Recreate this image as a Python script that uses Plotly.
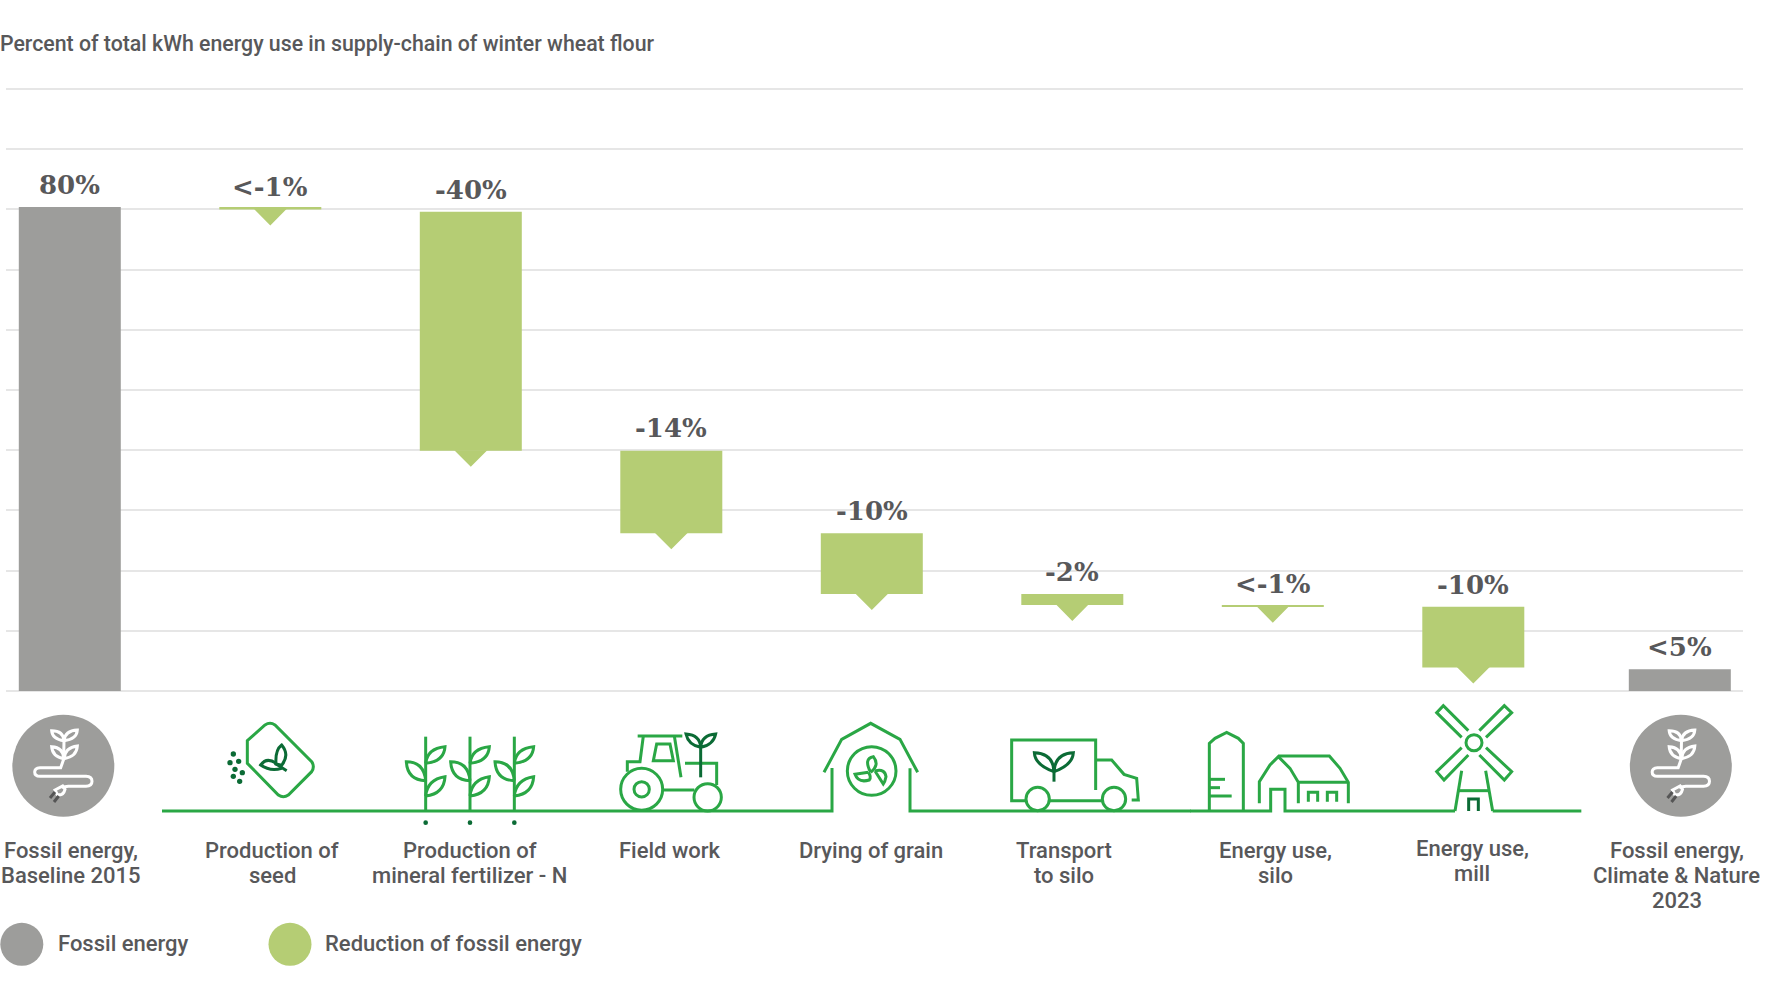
import re
import plotly.graph_objects as go

# ---------- data ----------
FOSSIL_LABELS = ["80%", "<5%"]
FOSSIL_TOPS = [80.4, 3.6]
REDUCTION_LABELS = ["<-1%", "-40%", "-14%", "-10%", "-2%", "<-1%", "-10%"]
REDUCTION_TOPS = [80.4, 79.6, 39.9, 26.2, 16.1, 14.3, 14.0]
REDUCTION_BOTTOMS = [80.0, 39.9, 26.2, 16.1, 14.3, 14.0, 3.9]
CATEGORIES = [
    ["Fossil energy,", "Baseline 2015"],
    ["Production of", "seed"],
    ["Production of", "mineral fertilizer - N"],
    ["Field work"],
    ["Drying of grain"],
    ["Transport", "to silo"],
    ["Energy use,", "silo"],
    ["Energy use,", "mill"],
    ["Fossil energy,", "Climate & Nature", "2023"],
]
TITLE = "Percent of total kWh energy use in supply-chain of winter wheat flour"
LEGEND = ["Fossil energy", "Reduction of fossil energy"]

# ---------- layout constants ----------
W, H = 1780, 1000
GRAY, LIME, GREEN, DARK, INK = "#9d9d9b", "#b5cd74", "#2aa745", "#0b6b35", "#58585a"
FONT = "Roboto"
FOSSIL_POS = [0, 8.03]
REDUCTION_POS = [1, 2, 3, 4, 5, 6, 7]
CAT_POS = [0, 1, 2, 3, 4, 5, 6, 7, 8.03]
CAT_XSHIFT = [1, 2, -1, -1, -1, -8, 3, -1, -3]
CAT_YSHIFT = [1, 1, 1, 1, 1, 1, 1, 3, 1]
LABEL_YSHIFT = [22, 22, 20, 22, 23, 22, 22, 21, 22]
X0, DX = 69.8, 200.5
PL, PR, PT, PB = 6, 1743, 86, 691
Y_PER_PX = 100 / 602
Y_TOP = (PB - PT) * Y_PER_PX
BAR_W = 102 / DX
TRI_HW, TRI_H = 16.5 / DX, 16 * Y_PER_PX
STROKE = 3


def pct(d, ox, oy):
    """Turn an absolute SVG path in 3x zoom coordinates into paper coordinates."""
    out = []
    for cmd, body in re.findall(r"([MLQCZ])([^MLQCZ]*)", d):
        nums = [float(n) for n in re.findall(r"-?\d+\.?\d*", body)]
        pts = [
            f"{(ox + nums[i] / 3) / W:.5f},{1 - (oy + nums[i + 1] / 3) / H:.5f}"
            for i in range(0, len(nums), 2)
        ]
        out.append(cmd + " ".join(pts))
    return " ".join(out)


shapes = []


def path(d, ox, oy, color=GREEN, width=STROKE):
    shapes.append(dict(type="path", xref="paper", yref="paper", path=pct(d, ox, oy),
                       line=dict(color=color, width=width), fillcolor="rgba(0,0,0,0)"))


def circ(cx, cy, r, ox=0, oy=0, color=GREEN, width=STROKE, fill=None):
    X, Y = (ox + cx / 3) / W, 1 - (oy + cy / 3) / H
    rx, ry = r / 3 / W, r / 3 / H
    shapes.append(dict(type="circle", xref="paper", yref="paper",
                       x0=X - rx, x1=X + rx, y0=Y - ry, y1=Y + ry,
                       line=dict(color=color, width=width if not fill else 0),
                       fillcolor=fill or "rgba(0,0,0,0)"))


# ----- round plug / wheat badge -----
for ox in (0, 1680.8 - 63.3):
    oy = 700
    circ(190, 197, 153, ox, oy, fill=GRAY)
    w = "#ffffff"
    path("M192 120 L191 178 L182 203 L120 203 Q104 204 104 216 Q104 229 120 229 "
         "L258 229 Q276 230 276 244 Q276 258 258 259 L205 259 L185 262", ox, oy, w)
    for d in ["M192 122 Q157 118 155 92 Q190 92 192 122",
              "M192 122 Q230 118 232 90 Q195 92 192 122",
              "M192 176 Q157 170 155 140 Q190 142 192 176",
              "M192 176 Q230 170 232 138 Q195 142 192 176",
              "M165 270 L188 258 L195 268 Q190 288 172 284 Z"]:
        path(d, ox, oy, w)
    path("M165 276 L150 294", ox, oy, "#555555", 3)
    path("M176 288 L162 306", ox, oy, "#555555", 3)

# ----- seed bag -----
O = (0, 700)
path("M742 122 L795 75 Q810 65 825 75 L935 185 Q945 200 935 215 L865 285 Q850 295 835 285 L742 190 Z", *O)
path("M860 212 L825 190", *O, DARK)
path("M828 192 Q825 150 845 135 Q870 165 845 196 Z", *O, DARK)
path("M828 190 Q800 170 782 195 Q810 215 845 205", *O, DARK)
for cx, cy in [(700, 162), (690, 188), (716, 184), (705, 208), (727, 218), (700, 229), (719, 244)]:
    circ(cx, cy, 8, *O, fill=DARK)

# ----- ground -----
path("M486 333 L2496 333 L2496 204", 0, 700)
path("M330 160 L330 288 L1172 288", 800, 715)
path("M0 333 L242 333 L242 268 L285 268 L285 333 L795 333", 1190, 700)
path("M908 333 L1174 333", 1190, 700)

# ----- plants -----
O = (395, 720)
for s in (92, 225, 358):
    path(f"M{s} 50 L{s} 270", *O)
    path(f"M{s} 130 Q{s + 5} 85 {s + 58} 80 Q{s + 55} 125 {s} 130", *O)
    path(f"M{s} 228 Q{s + 5} 178 {s + 58} 170 Q{s + 55} 222 {s} 228", *O)
    path(f"M{s} 182 Q{s - 55} 180 {s - 58} 125 Q{s - 5} 125 {s} 182", *O)
    circ(s, 308, 7, *O, fill=DARK)

# ----- tractor -----
circ(740, 208, 63, *O)
circ(740, 208, 23, *O)
circ(938, 232, 41, *O)
path("M728 48 L862 48", *O)
path("M745 48 L735 125 L697 125 L697 155", *O)
path("M838 48 L858 172", *O)
path("M785 72 L825 72 L835 122 L775 122 Z", *O)
path("M870 130 L965 130 L965 195", *O)
path("M805 210 L898 210", *O)
path("M917 80 L917 172", *O, DARK)
path("M917 82 Q880 75 873 42 Q915 45 917 82", *O, DARK)
path("M917 82 Q955 75 962 42 Q920 45 917 82", *O, DARK)

# ----- barn -----
O = (800, 715)
path("M72 172 L125 73 L212 25 L300 73 L353 172", *O)
circ(215, 168, 73, *O)
path("M212 172 Q190 130 220 125 Q240 150 212 172", *O)
path("M205 172 L165 178 Q175 205 208 195 Q215 185 205 172", *O)
path("M225 168 Q255 160 258 185 Q255 200 250 207 L225 168", *O)

# ----- truck -----
path("M887 225 L887 75 L635 75 L635 257 L680 257", *O)
path("M750 257 L905 257", *O)
circ(713, 252, 35, *O)
circ(942, 252, 35, *O)
path("M890 135 L935 135 L972 178 L1010 190 L1015 255 L995 255", *O)
path("M762 150 L762 200", *O, DARK)
path("M762 170 Q705 150 703 113 Q760 115 762 170", *O, DARK)
path("M762 170 Q818 150 820 113 Q765 115 762 170", *O, DARK)

# ----- silo, farm, windmill -----
O = (1190, 700)
path("M58 333 L58 130 L75 115 L110 97 L145 115 L160 130 L160 333", *O)
path("M58 238 L105 238", *O)
path("M58 263 L90 263", *O)
path("M58 288 L125 288", *O)
path("M208 310 L208 245 L240 195 L265 170 L300 205 L325 247 L325 310", *O)
path("M265 168 L418 168 L450 205 L475 247 L475 310", *O)
path("M325 247 L475 247", *O)
path("M355 305 L355 277 L383 277 L383 305", *O)
path("M412 305 L412 277 L440 277 L440 305", *O)
circ(852, 128, 24, *O)
path("M835 92 L760 17 L740 38 L815 112", *O)
path("M868 92 L943 17 L965 38 L888 112", *O)
path("M815 143 L740 215 L762 240 L835 165", *O)
path("M888 143 L965 215 L943 240 L868 165", *O)
path("M815 212 L795 333", *O)
path("M887 212 L908 333", *O)
path("M805 272 L898 272", *O)
path("M836 333 L836 297 L865 297 L865 333", *O, DARK)

# ----- legend markers -----
circ(21.8 * 3, 944.3 * 3, 21.5 * 3, fill=GRAY)
circ(290 * 3, 944.3 * 3, 21.5 * 3, fill=LIME)

# ---------- traces ----------
fig = go.Figure()
fig.add_bar(x=FOSSIL_POS, y=FOSSIL_TOPS, width=BAR_W, marker=dict(color=GRAY, line_width=0),
            name=LEGEND[0], showlegend=False)
fig.add_bar(x=REDUCTION_POS, y=[t - b for t, b in zip(REDUCTION_TOPS, REDUCTION_BOTTOMS)],
            base=REDUCTION_BOTTOMS, width=BAR_W, marker=dict(color=LIME, line_width=0),
            name=LEGEND[1], showlegend=False)
tx, ty = [], []
for p, b in zip(REDUCTION_POS, REDUCTION_BOTTOMS):
    tx += [p - TRI_HW, p + TRI_HW, p, None]
    ty += [b + 0.1, b + 0.1, b - TRI_H, None]
fig.add_scatter(x=tx, y=ty, mode="lines", fill="toself", fillcolor=LIME, line=dict(width=0),
                showlegend=False, hoverinfo="skip")

# ---------- text ----------
ann = []
for p, t, s, ys in zip(FOSSIL_POS + REDUCTION_POS, FOSSIL_TOPS + REDUCTION_TOPS,
                       FOSSIL_LABELS + REDUCTION_LABELS, LABEL_YSHIFT):
    ann.append(dict(x=p, y=t, xref="x", yref="y", text=s, showarrow=False, yanchor="middle",
                    yshift=ys, font=dict(family="DejaVu Serif", size=26, color=INK, weight=700)))
for p, lines, xs, ys in zip(CAT_POS, CATEGORIES, CAT_XSHIFT, CAT_YSHIFT):
    for i, line in enumerate(lines):
        ann.append(dict(x=p, y=0, xref="x", yref="y", text=line, showarrow=False, yanchor="middle",
                        xshift=xs, yshift=-(160 + 25.2 * i) + ys,
                        font=dict(family=FONT, size=22, color=INK, weight=500)))
ann.append(dict(x=-2 / W, y=1 - 43 / H, xref="paper", yref="paper", text=TITLE, showarrow=False,
                xanchor="left", yanchor="middle", font=dict(family=FONT, size=21.3, color=INK, weight=500)))
for x0, s in zip((56, 323), LEGEND):
    ann.append(dict(x=x0 / W, y=1 - 943 / H, xref="paper", yref="paper", text=s, showarrow=False,
                    xanchor="left", yanchor="middle", font=dict(family=FONT, size=22, color=INK, weight=500)))

fig.update_layout(
    width=W, height=H, margin=dict(l=0, r=0, t=0, b=0), paper_bgcolor="white", plot_bgcolor="white",
    showlegend=False, barmode="overlay", shapes=shapes, annotations=ann,
    xaxis=dict(domain=[PL / W, PR / W], range=[(PL - X0) / DX, (PR - X0) / DX],
               showgrid=False, zeroline=False, showticklabels=False, ticks=""),
    yaxis=dict(domain=[1 - PB / H, 1 - PT / H], range=[0, Y_TOP], dtick=10, showgrid=True,
               gridcolor="#e6e6e6", gridwidth=1.5, zeroline=True, zerolinecolor="#e6e6e6",
               zerolinewidth=1.5, showticklabels=False, ticks=""),
)
fig.write_html("out.html", config=dict(displayModeBar=False),
               post_script="document.body.style.margin='0';")
